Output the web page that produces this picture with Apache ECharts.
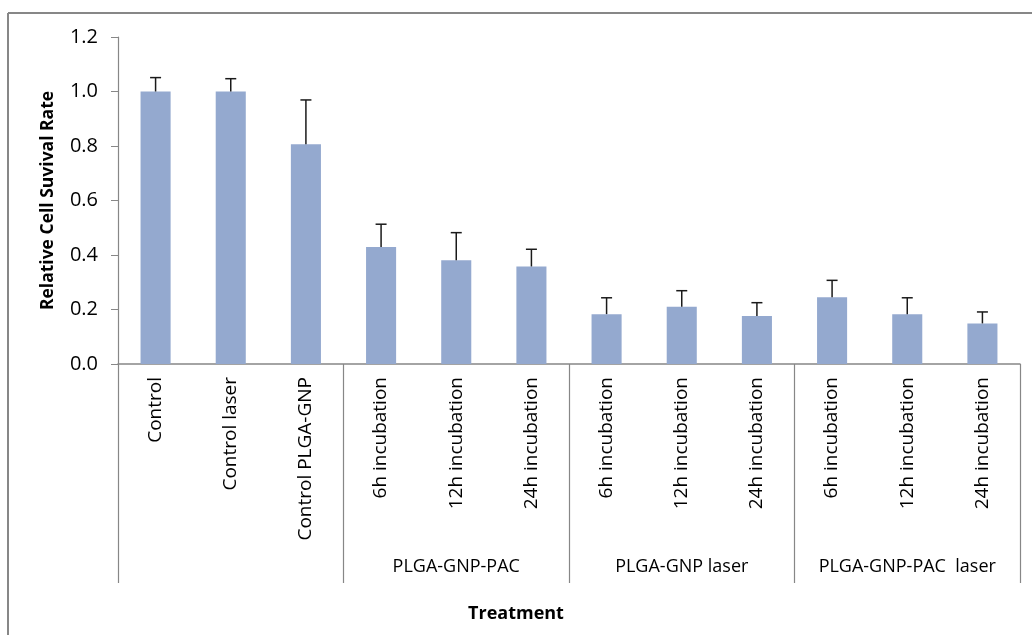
<!DOCTYPE html>
<html>
<head>
<meta charset="utf-8">
<script src="https://cdn.jsdelivr.net/npm/echarts@6/dist/echarts.min.js"></script>
<style>
  html, body { margin: 0; padding: 0; background: #fff; }
  #chart { width: 1032px; height: 635px; }
</style>
</head>
<body>
<div id="chart"></div>
<script>
// categories (inner level) and their groups (outer level)
const categories = [
  'Control', 'Control laser', 'Control PLGA-GNP',
  '6h incubation', '12h incubation', '24h incubation',
  '6h incubation', '12h incubation', '24h incubation',
  '6h incubation', '12h incubation', '24h incubation'
]
const groups = ['', 'PLGA-GNP-PAC', 'PLGA-GNP laser', 'PLGA-GNP-PAC  laser']
// relative survival and the + error
const survival = [1.0, 1.0, 0.806, 0.429, 0.381, 0.358, 0.183, 0.210, 0.176, 0.245, 0.183, 0.149]
const errors = [0.051, 0.047, 0.163, 0.084, 0.101, 0.063, 0.060, 0.059, 0.049, 0.062, 0.060, 0.042]

const font = '"Open Sans", "DejaVu Sans", sans-serif'
const axisGrey = '#878787'

const chart = echarts.init(document.getElementById('chart'))
chart.setOption({
  animation: false,
  textStyle: { fontFamily: font },
  graphic: [
    { type: 'line', shape: { x1: 8, y1: 13, x2: 1032, y2: 13 }, style: { stroke: axisGrey, lineWidth: 2 } },
    { type: 'line', shape: { x1: 8, y1: 13, x2: 8, y2: 635 }, style: { stroke: axisGrey, lineWidth: 2 } },
    {
      type: 'text', left: 'center', top: 605,
      style: { text: 'Treatment', fontFamily: font, fontSize: 18, fontWeight: 'bold', fill: '#000' },
      x: 49
    }
  ],
  grid: { left: 118, top: 37, right: 12, bottom: 271 },
  xAxis: [
    {
      type: 'category',
      data: categories,
      axisLine: { lineStyle: { color: axisGrey, width: 1.5 } },
      axisTick: { show: false },
      axisLabel: { rotate: 90, interval: 0, margin: 13, fontSize: 19, color: '#000', fontFamily: font }
    },
    {
      type: 'category',
      data: groups,
      position: 'bottom',
      axisLine: { show: false },
      axisTick: { show: true, length: 219, lineStyle: { color: axisGrey, width: 1.2 } },
      axisLabel: { interval: 0, margin: 194, fontSize: 18, color: '#000', fontFamily: font }
    }
  ],
  yAxis: {
    type: 'value',
    min: 0,
    max: 1.2,
    interval: 0.2,
    name: 'Relative Cell Suvival Rate',
    nameLocation: 'middle',
    nameGap: 61,
    nameTextStyle: { fontSize: 17.5, fontWeight: 'bold', color: '#000', fontFamily: font },
    axisLine: { show: true, lineStyle: { color: axisGrey, width: 1.2 } },
    axisTick: { show: true, length: 7, lineStyle: { color: axisGrey } },
    axisLabel: {
      fontSize: 20, color: '#000', margin: 20, fontFamily: font,
      formatter: v => v.toFixed(1)
    },
    splitLine: { show: false }
  },
  series: [
    {
      type: 'bar',
      data: survival,
      barWidth: '40%',
      itemStyle: { color: '#94A9CF' }
    },
    {
      type: 'custom',
      z: 5,
      data: survival.map((v, i) => [i, v, errors[i]]),
      encode: { x: 0, y: 1 },
      renderItem(params, api) {
        const i = api.value(0)
        const v = api.value(1)
        const e = api.value(2)
        const base = api.coord([i, v])
        const top = api.coord([i, v + e])
        const hw = 5.5
        const style = { stroke: '#1a1a1a', lineWidth: 1.5 }
        return {
          type: 'group',
          children: [
            { type: 'line', shape: { x1: base[0], y1: base[1], x2: top[0], y2: top[1] }, style },
            { type: 'line', shape: { x1: top[0] - hw, y1: top[1], x2: top[0] + hw, y2: top[1] }, style }
          ]
        }
      }
    }
  ]
})
</script>
</body>
</html>
